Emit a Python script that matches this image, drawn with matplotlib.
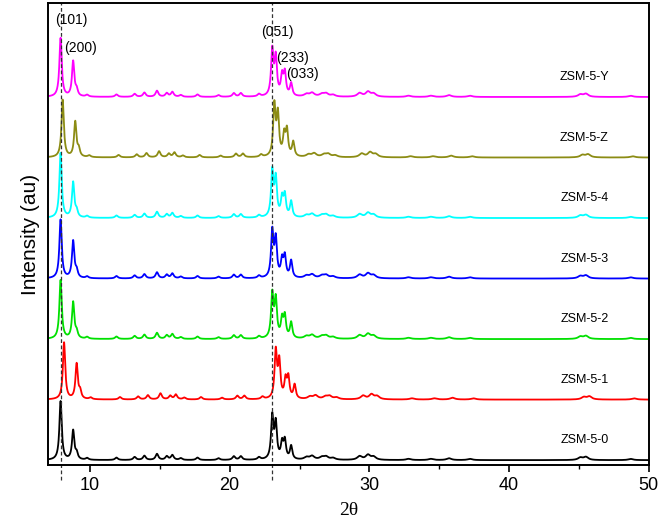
import numpy as np
import matplotlib
matplotlib.use("Agg")
import matplotlib.pyplot as plt

# samples, bottom to top
samples = ["ZSM-5-0", "ZSM-5-1", "ZSM-5-2", "ZSM-5-3", "ZSM-5-4", "ZSM-5-Z", "ZSM-5-Y"]
colors = ["black", "red", "#00e000", "blue", "cyan", "#8c8c14", "magenta"]
shifts = [0.0, 0.25, 0.0, 0.0, 0.0, 0.15, 0.0]   # 2theta shift of each pattern

# main reflections (2theta) and heights read per sample
main_pos = [7.9, 8.8, 9.05, 23.05, 23.3, 23.75, 23.95, 24.4]
main_h = {
    "ZSM-5-0": [0.97, 0.48, 0.10, 0.70, 0.58, 0.26, 0.30, 0.22],
    "ZSM-5-1": [0.94, 0.58, 0.12, 0.78, 0.60, 0.30, 0.34, 0.23],
    "ZSM-5-2": [0.97, 0.60, 0.10, 0.72, 0.62, 0.30, 0.35, 0.26],
    "ZSM-5-3": [0.97, 0.61, 0.11, 0.76, 0.62, 0.28, 0.34, 0.28],
    "ZSM-5-4": [1.07, 0.58, 0.10, 0.75, 0.62, 0.30, 0.35, 0.26],
    "ZSM-5-Z": [0.95, 0.58, 0.12, 0.84, 0.68, 0.34, 0.42, 0.24],
    "ZSM-5-Y": [0.97, 0.58, 0.10, 0.75, 0.62, 0.32, 0.37, 0.21],
}

# weak reflections shared by all patterns
minor_pos = [9.8, 11.9, 13.2, 13.9, 14.8, 15.5, 15.9, 16.5, 17.7, 19.2, 20.3, 20.8,
             22.1, 25.5, 25.9, 26.6, 26.9, 27.4, 29.3, 29.9, 30.3, 32.8, 34.4,
             35.7, 37.2, 45.1, 45.5, 48.7]
minor_h = [0.03, 0.04, 0.05, 0.07, 0.10, 0.06, 0.08, 0.03, 0.04, 0.03, 0.06, 0.06,
           0.04, 0.04, 0.06, 0.04, 0.05, 0.03, 0.06, 0.08, 0.05, 0.02, 0.02,
           0.03, 0.02, 0.04, 0.05, 0.02]

hkl_labels = ["(101)", "(200)", "(051)", "(233)", "(033)"]
hkl_x = [8.7, 9.3, 23.4, 24.5, 25.2]
hkl_y = [7.27, 6.81, 7.07, 6.64, 6.38]

ref_lines = [7.9, 23.0]
spacing = 1.0

two_theta = np.arange(7.0, 50.0, 0.01)


def pattern(pos, h, shift, w_main):
    y = np.zeros_like(two_theta)
    for p, a in zip(pos, h):
        w = w_main if p < 25 else 0.2
        y += a / (1 + ((two_theta - p - shift) / w) ** 2)
    return y


fig = plt.figure(figsize=(6.61, 5.31), dpi=100)
ax = fig.add_axes([0.0726, 0.124, 0.909, 0.870])

for i, name in enumerate(samples):
    y = pattern(main_pos, main_h[name], shifts[i], 0.1) + pattern(minor_pos, minor_h, shifts[i], 0.12)
    ax.plot(two_theta, y + i * spacing, color=colors[i], lw=1.3)
    ax.text(45.4, i * spacing + 0.33, name, fontsize=9, ha="center", va="center",
            family="Liberation Sans")

for xl in ref_lines:
    ax.plot([xl, xl], [-0.33, 7.55], color="#333333", lw=0.9, ls=(0, (3, 2)), clip_on=False)

for lab, xx, yy in zip(hkl_labels, hkl_x, hkl_y):
    ax.text(xx, yy, lab, fontsize=10, ha="center", va="center", family="Liberation Sans")

ax.set_xlim(7, 50)
ax.set_ylim(-0.083, 7.55)
ax.set_yticks([])
ax.set_xticks([10, 20, 30, 40, 50])
ax.set_xticks([15, 25, 35, 45], minor=True)
ax.tick_params(axis="x", which="major", length=5, width=1.2, labelsize=13, direction="out")
ax.tick_params(axis="x", which="minor", length=3, width=1.0, direction="out")
for lbl in ax.get_xticklabels():
    lbl.set_family("Liberation Sans")
for s in ax.spines.values():
    s.set_linewidth(1.4)

ax.set_xlabel("2θ", fontsize=14, family="Liberation Serif", labelpad=6)
ax.set_ylabel("Intensity (au)", fontsize=15, family="Liberation Sans", labelpad=6)

fig.savefig("out.png", dpi=100)
